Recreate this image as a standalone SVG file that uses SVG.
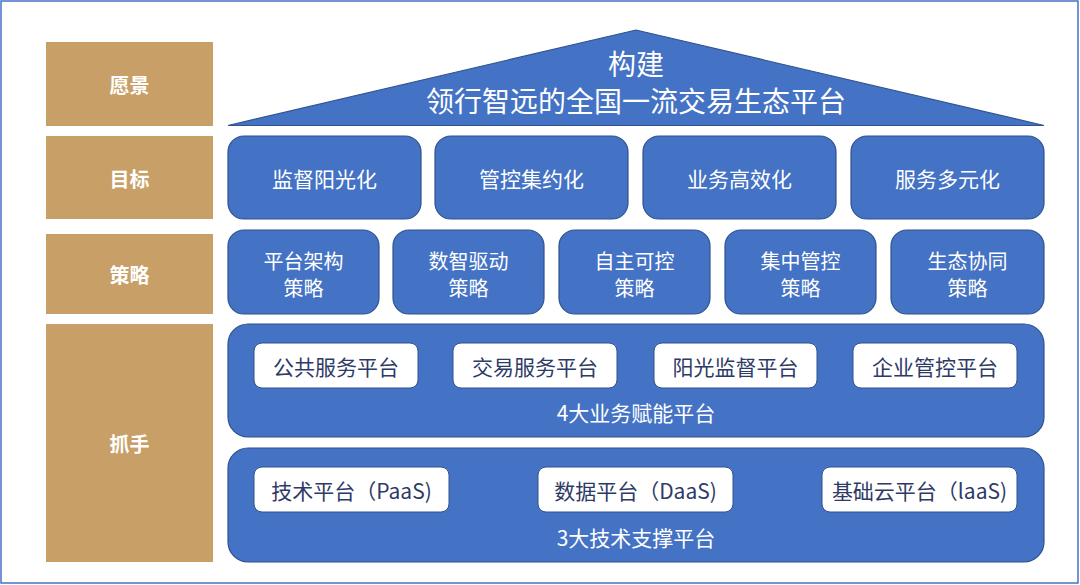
<svg xmlns="http://www.w3.org/2000/svg" width="1080" height="585" viewBox="0 0 1080 585">
<style>
text{font-family:"Noto Sans CJK SC","Noto Sans",sans-serif;text-anchor:middle;dominant-baseline:central}
.lab rect{fill:#C89F66}
.lab text{fill:#fff;font-size:20px;font-weight:bold}
.blue{fill:#4472C4;stroke:#2F528F;stroke-width:1.2}
.wt{fill:#fff;font-size:21px}
.st{fill:#fff;font-size:20px}
.vt{fill:#fff;font-size:28px}
.wbox{fill:#fff;stroke:#2F528F;stroke-width:1}
.dt{fill:#2E3A66;font-size:21px}
</style>
<rect x="1" y="1" width="1077" height="582" fill="#fff" stroke="#4472C4" stroke-width="1.5"/>
<g id="label-vision" class="lab"><rect x="46" y="42" width="167" height="84"/><text x="129.5" y="84">愿景</text></g>
<g id="label-goal" class="lab"><rect x="46" y="136" width="167" height="83"/><text x="129.5" y="178">目标</text></g>
<g id="label-strategy" class="lab"><rect x="46" y="234" width="167" height="80"/><text x="129.5" y="274">策略</text></g>
<g id="label-handle" class="lab"><rect x="46" y="324" width="167" height="238"/><text x="129.5" y="443">抓手</text></g>
<g id="vision"><polygon class="blue" points="228,125.5 636,30 1044,125.5"/><text class="vt" x="636" y="63">构建</text><text class="vt" x="636" y="100">领行智远的全国一流交易生态平台</text></g>
<g id="goal1"><rect class="blue" x="228" y="136" width="193" height="83" rx="16"/><text class="wt" x="324.5" y="178">监督阳光化</text></g>
<g id="goal2"><rect class="blue" x="435" y="136" width="193" height="83" rx="16"/><text class="wt" x="531.5" y="178">管控集约化</text></g>
<g id="goal3"><rect class="blue" x="643" y="136" width="193" height="83" rx="16"/><text class="wt" x="739.5" y="178">业务高效化</text></g>
<g id="goal4"><rect class="blue" x="851" y="136" width="193" height="83" rx="16"/><text class="wt" x="947.5" y="178">服务多元化</text></g>
<g id="s1"><rect class="blue" x="228" y="230" width="151" height="84" rx="16"/><text class="st" x="303.5" y="260">平台架构</text><text class="st" x="303.5" y="287">策略</text></g>
<g id="s2"><rect class="blue" x="393" y="230" width="151" height="84" rx="16"/><text class="st" x="468.5" y="260">数智驱动</text><text class="st" x="468.5" y="287">策略</text></g>
<g id="s3"><rect class="blue" x="559" y="230" width="151" height="84" rx="16"/><text class="st" x="634.5" y="260">自主可控</text><text class="st" x="634.5" y="287">策略</text></g>
<g id="s4"><rect class="blue" x="725" y="230" width="151" height="84" rx="16"/><text class="st" x="800.5" y="260">集中管控</text><text class="st" x="800.5" y="287">策略</text></g>
<g id="s5"><rect class="blue" x="891" y="230" width="153" height="84" rx="16"/><text class="st" x="967.5" y="260">生态协同</text><text class="st" x="967.5" y="287">策略</text></g>
<g id="biz"><rect class="blue" x="228" y="324" width="816" height="113" rx="20"/><text class="wt" x="636" y="412">4大业务赋能平台</text></g>
<g id="b1"><rect class="wbox" x="254" y="343" width="164" height="45" rx="8"/><text class="dt" x="336" y="366">公共服务平台</text></g>
<g id="b2"><rect class="wbox" x="453" y="343" width="164" height="45" rx="8"/><text class="dt" x="535" y="366">交易服务平台</text></g>
<g id="b3"><rect class="wbox" x="654" y="343" width="163" height="45" rx="8"/><text class="dt" x="735.5" y="366">阳光监督平台</text></g>
<g id="b4"><rect class="wbox" x="853" y="343" width="164" height="45" rx="8"/><text class="dt" x="935" y="366">企业管控平台</text></g>
<g id="tech"><rect class="blue" x="228" y="448" width="816" height="114" rx="20"/><text class="wt" x="636" y="537">3大技术支撑平台</text></g>
<g id="t1"><rect class="wbox" x="254" y="467" width="195" height="45" rx="8"/><text class="dt" x="351.5" y="490">技术平台（PaaS)</text></g>
<g id="t2"><rect class="wbox" x="538" y="467" width="195" height="45" rx="8"/><text class="dt" x="635.5" y="490">数据平台（DaaS)</text></g>
<g id="t3"><rect class="wbox" x="822" y="467" width="195" height="45" rx="8"/><text class="dt" x="919.5" y="490">基础云平台（laaS)</text></g>
<g id="connectors"/>
</svg>
